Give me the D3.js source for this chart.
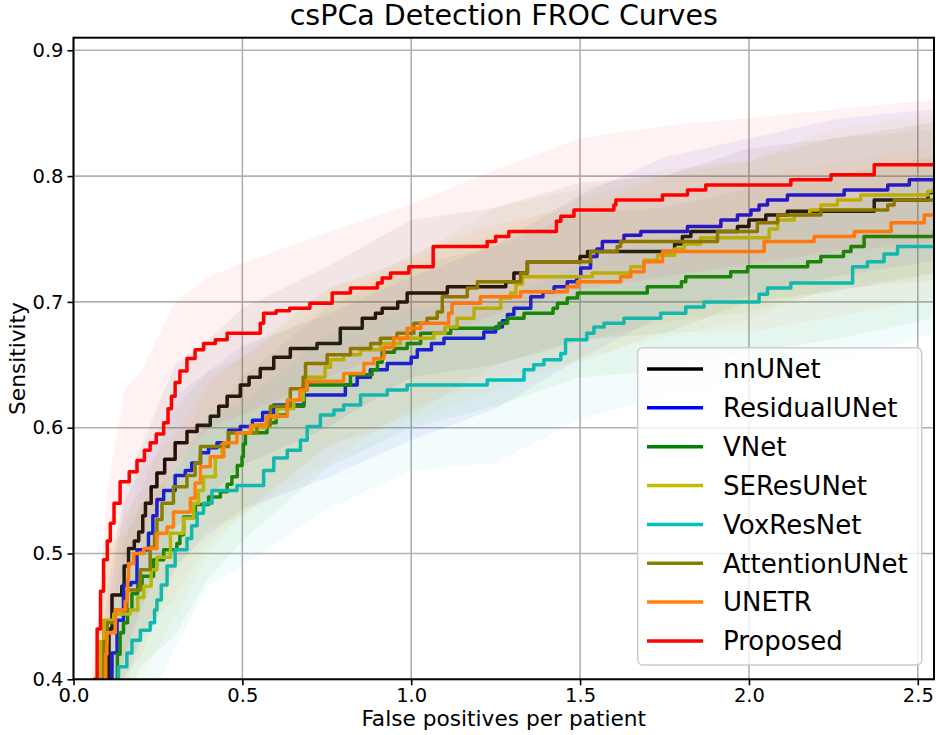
<!DOCTYPE html>
<html>
<head>
<meta charset="utf-8">
<script src="https://cdn.jsdelivr.net/npm/d3@7"></script>
<style>
  html, body { margin: 0; padding: 0; background: #fff; }
  svg { display: block; font-family: "DejaVu Sans", sans-serif; }
</style>
</head>
<body>
<svg id="chart" width="936" height="735"></svg>
<script>
// ---------------- DATA ----------------
const seriesNames = ["nnUNet", "ResidualUNet", "VNet", "SEResUNet", "VoxResNet", "AttentionUNet", "UNETR", "Proposed"];
const seriesColors = ["#000000", "#0000ff", "#008000", "#bfbf00", "#00bfbf", "#808000", "#ff7f0e", "#ff0000"];
const xTicks = [0.0, 0.5, 1.0, 1.5, 2.0, 2.5];
const yTicks = [0.4, 0.5, 0.6, 0.7, 0.8, 0.9];

// FROC curves: [false positives per patient, sensitivity]
const nnUNet = [[0.099,0.40],[0.105,0.44],[0.114,0.467],[0.143,0.474],[0.15,0.49],[0.163,0.504],[0.18,0.51],[0.193,0.517],[0.205,0.53],[0.213,0.540],[0.23,0.553],[0.247,0.564],[0.27,0.575],[0.301,0.588],[0.336,0.597],[0.366,0.602],[0.405,0.609],[0.43,0.617],[0.455,0.625],[0.494,0.634],[0.52,0.640],[0.553,0.647],[0.593,0.656],[0.642,0.663],[0.721,0.667],[0.79,0.679],[0.855,0.687],[0.894,0.691],[0.914,0.695],[0.96,0.700],[0.988,0.707],[1.107,0.712],[1.28,0.716],[1.304,0.723],[1.344,0.732],[1.50,0.736],[1.522,0.740],[1.78,0.746],[1.803,0.752],[1.828,0.756],[1.966,0.760],[2.0,0.765],[2.05,0.769],[2.114,0.772],[2.371,0.781],[2.53,0.787],[2.549,0.790],[2.6,0.790]];
const residualUNet = [[0.11,0.40],[0.114,0.421],[0.129,0.447],[0.148,0.475],[0.17,0.477],[0.188,0.503],[0.222,0.516],[0.235,0.53],[0.247,0.543],[0.267,0.550],[0.301,0.562],[0.331,0.566],[0.35,0.572],[0.376,0.580],[0.40,0.584],[0.425,0.588],[0.459,0.598],[0.494,0.601],[0.53,0.606],[0.56,0.612],[0.593,0.618],[0.682,0.626],[0.805,0.634],[0.84,0.640],[0.879,0.646],[0.929,0.651],[1.0,0.656],[1.018,0.662],[1.06,0.667],[1.097,0.671],[1.215,0.676],[1.25,0.680],[1.27,0.685],[1.285,0.690],[1.304,0.695],[1.354,0.704],[1.39,0.708],[1.423,0.712],[1.462,0.716],[1.49,0.720],[1.502,0.727],[1.531,0.736],[1.55,0.742],[1.566,0.748],[1.63,0.753],[1.68,0.756],[1.818,0.760],[1.917,0.765],[1.966,0.769],[2.006,0.773],[2.03,0.777],[2.055,0.781],[2.114,0.785],[2.282,0.789],[2.411,0.793],[2.475,0.797],[2.6,0.797]];
const vNet = [[0.125,0.40],[0.13,0.42],[0.138,0.437],[0.148,0.445],[0.16,0.455],[0.173,0.468],[0.19,0.475],[0.203,0.482],[0.237,0.495],[0.267,0.503],[0.306,0.508],[0.315,0.515],[0.326,0.529],[0.361,0.539],[0.40,0.545],[0.435,0.549],[0.455,0.555],[0.469,0.561],[0.485,0.570],[0.499,0.577],[0.503,0.587],[0.509,0.596],[0.573,0.604],[0.60,0.610],[0.633,0.617],[0.682,0.630],[0.692,0.634],[0.82,0.642],[0.884,0.646],[0.90,0.652],[0.914,0.660],[0.95,0.663],[0.988,0.667],[1.028,0.675],[1.117,0.679],[1.26,0.683],[1.285,0.687],[1.334,0.691],[1.42,0.695],[1.433,0.699],[1.462,0.703],[1.492,0.707],[1.699,0.712],[1.80,0.716],[1.813,0.720],[1.946,0.724],[1.996,0.728],[2.174,0.732],[2.213,0.736],[2.28,0.740],[2.302,0.744],[2.341,0.752],[2.549,0.756],[2.6,0.756]];
const seResUNet = [[0.065,0.40],[0.08,0.43],[0.089,0.447],[0.119,0.452],[0.168,0.455],[0.19,0.465],[0.208,0.474],[0.23,0.487],[0.247,0.497],[0.287,0.516],[0.326,0.528],[0.356,0.540],[0.37,0.550],[0.385,0.561],[0.42,0.577],[0.44,0.587],[0.459,0.596],[0.53,0.600],[0.57,0.608],[0.603,0.615],[0.652,0.622],[0.68,0.634],[0.69,0.640],[0.745,0.648],[0.761,0.654],[0.80,0.658],[0.85,0.662],[0.909,0.667],[0.968,0.671],[1.067,0.675],[1.10,0.680],[1.136,0.687],[1.186,0.695],[1.265,0.703],[1.294,0.707],[1.31,0.714],[1.329,0.720],[1.536,0.723],[1.65,0.728],[1.689,0.733],[1.729,0.737],[1.78,0.742],[1.808,0.746],[1.857,0.751],[2.06,0.758],[2.085,0.765],[2.134,0.769],[2.18,0.773],[2.213,0.777],[2.262,0.781],[2.331,0.785],[2.53,0.788],[2.549,0.790],[2.6,0.790]];
const voxResNet = [[0.128,0.40],[0.133,0.410],[0.158,0.421],[0.173,0.431],[0.198,0.439],[0.227,0.445],[0.24,0.455],[0.247,0.463],[0.26,0.475],[0.277,0.490],[0.301,0.503],[0.336,0.512],[0.35,0.522],[0.366,0.532],[0.385,0.540],[0.410,0.550],[0.484,0.554],[0.563,0.566],[0.593,0.576],[0.633,0.582],[0.672,0.590],[0.692,0.601],[0.731,0.610],[0.771,0.614],[0.800,0.618],[0.850,0.626],[0.929,0.630],[0.988,0.634],[1.225,0.638],[1.334,0.646],[1.363,0.650],[1.393,0.654],[1.443,0.659],[1.457,0.670],[1.52,0.675],[1.541,0.680],[1.571,0.683],[1.630,0.687],[1.739,0.691],[1.813,0.696],[1.867,0.700],[2.03,0.706],[2.055,0.711],[2.124,0.715],[2.307,0.728],[2.351,0.732],[2.40,0.738],[2.440,0.744],[2.6,0.744]];
const attentionUNet = [[0.08,0.40],[0.09,0.43],[0.10,0.445],[0.124,0.455],[0.158,0.471],[0.198,0.487],[0.227,0.505],[0.24,0.515],[0.247,0.527],[0.262,0.540],[0.296,0.553],[0.336,0.562],[0.36,0.572],[0.376,0.585],[0.459,0.596],[0.543,0.602],[0.583,0.617],[0.642,0.631],[0.68,0.640],[0.687,0.651],[0.751,0.658],[0.820,0.663],[0.88,0.667],[0.909,0.671],[0.958,0.675],[1.008,0.683],[1.047,0.687],[1.077,0.692],[1.092,0.704],[1.166,0.711],[1.196,0.716],[1.324,0.723],[1.344,0.732],[1.531,0.740],[1.610,0.744],[1.620,0.748],[1.907,0.756],[2.025,0.763],[2.085,0.769],[2.213,0.773],[2.411,0.777],[2.430,0.781],[2.6,0.781]];
const unetr = [[0.09,0.40],[0.095,0.42],[0.099,0.437],[0.124,0.455],[0.153,0.462],[0.16,0.48],[0.163,0.492],[0.178,0.500],[0.208,0.504],[0.247,0.516],[0.277,0.521],[0.296,0.533],[0.346,0.544],[0.36,0.556],[0.376,0.569],[0.405,0.577],[0.445,0.588],[0.484,0.596],[0.524,0.602],[0.573,0.609],[0.633,0.622],[0.67,0.630],[0.692,0.637],[0.800,0.643],[0.860,0.651],[0.889,0.655],[0.919,0.664],[0.948,0.671],[0.988,0.679],[1.028,0.683],[1.111,0.691],[1.121,0.699],[1.205,0.704],[1.324,0.708],[1.462,0.712],[1.492,0.716],[1.620,0.720],[1.650,0.724],[1.689,0.732],[1.744,0.740],[2.045,0.748],[2.193,0.752],[2.312,0.756],[2.421,0.763],[2.519,0.769],[2.6,0.769]];
const proposed = [[0.059,0.40],[0.07,0.44],[0.08,0.47],[0.089,0.495],[0.10,0.51],[0.109,0.524],[0.12,0.54],[0.138,0.557],[0.165,0.565],[0.188,0.574],[0.21,0.582],[0.227,0.588],[0.245,0.595],[0.267,0.604],[0.28,0.615],[0.29,0.625],[0.301,0.636],[0.315,0.645],[0.336,0.655],[0.36,0.662],[0.385,0.667],[0.42,0.670],[0.455,0.675],[0.553,0.683],[0.563,0.691],[0.60,0.693],[0.64,0.695],[0.70,0.699],[0.766,0.707],[0.82,0.711],[0.90,0.715],[0.914,0.719],[0.939,0.723],[0.993,0.728],[1.065,0.744],[1.225,0.748],[1.25,0.752],[1.289,0.756],[1.43,0.764],[1.443,0.768],[1.482,0.773],[1.60,0.777],[1.606,0.781],[1.744,0.785],[1.818,0.789],[1.872,0.793],[2.124,0.797],[2.243,0.801],[2.371,0.809],[2.6,0.809]];

// Confidence bands, sampled at bandX
const bandX = [0.05, 0.1, 0.15, 0.2, 0.3, 0.4, 0.5, 0.75, 1.0, 1.25, 1.5, 1.75, 2.0, 2.25, 2.6];
const nnUNetLo = [0.25, 0.33, 0.42, 0.455, 0.52, 0.545, 0.57, 0.60, 0.64, 0.65, 0.67, 0.675, 0.70, 0.708, 0.725];
const nnUNetHi = [0.34, 0.47, 0.55, 0.585, 0.65, 0.67, 0.695, 0.728, 0.765, 0.775, 0.795, 0.80, 0.822, 0.83, 0.845];
const residualUNetLo = [0.24, 0.31, 0.40, 0.43, 0.49, 0.515, 0.535, 0.56, 0.59, 0.615, 0.655, 0.69, 0.705, 0.72, 0.735];
const residualUNetHi = [0.33, 0.45, 0.54, 0.57, 0.625, 0.645, 0.665, 0.69, 0.72, 0.745, 0.785, 0.815, 0.83, 0.845, 0.855];
const vNetLo = [0.22, 0.29, 0.38, 0.41, 0.435, 0.48, 0.51, 0.568, 0.60, 0.617, 0.64, 0.645, 0.66, 0.67, 0.69];
const vNetHi = [0.30, 0.43, 0.51, 0.54, 0.565, 0.605, 0.64, 0.695, 0.728, 0.745, 0.77, 0.775, 0.79, 0.80, 0.818];
const seResUNetLo = [0.28, 0.38, 0.385, 0.40, 0.45, 0.50, 0.535, 0.585, 0.606, 0.63, 0.655, 0.672, 0.686, 0.712, 0.725];
const seResUNetHi = [0.40, 0.51, 0.515, 0.535, 0.58, 0.63, 0.66, 0.71, 0.732, 0.755, 0.782, 0.80, 0.812, 0.838, 0.85];
const voxResNetLo = [0.15, 0.20, 0.33, 0.36, 0.425, 0.475, 0.49, 0.535, 0.566, 0.572, 0.607, 0.625, 0.635, 0.65, 0.68];
const voxResNetHi = [0.25, 0.37, 0.48, 0.505, 0.57, 0.61, 0.62, 0.675, 0.695, 0.70, 0.73, 0.752, 0.76, 0.775, 0.805];
const attentionUNetLo = [0.26, 0.375, 0.40, 0.42, 0.485, 0.52, 0.53, 0.585, 0.61, 0.65, 0.668, 0.684, 0.692, 0.71, 0.718];
const attentionUNetHi = [0.38, 0.505, 0.53, 0.55, 0.615, 0.645, 0.655, 0.71, 0.735, 0.775, 0.79, 0.805, 0.812, 0.83, 0.838];
const unetrLo = [0.25, 0.37, 0.39, 0.435, 0.465, 0.51, 0.53, 0.572, 0.615, 0.64, 0.652, 0.676, 0.676, 0.688, 0.705];
const unetrHi = [0.37, 0.50, 0.52, 0.565, 0.595, 0.637, 0.656, 0.697, 0.738, 0.762, 0.775, 0.798, 0.80, 0.81, 0.826];
const proposedLo = [0.30, 0.44, 0.49, 0.51, 0.57, 0.60, 0.61, 0.64, 0.665, 0.69, 0.71, 0.72, 0.73, 0.74, 0.748];
const proposedHi = [0.38, 0.55, 0.63, 0.645, 0.70, 0.72, 0.731, 0.755, 0.778, 0.805, 0.83, 0.84, 0.846, 0.853, 0.862];

const curves = [nnUNet, residualUNet, vNet, seResUNet, voxResNet, attentionUNet, unetr, proposed];
const bandsLo = [nnUNetLo, residualUNetLo, vNetLo, seResUNetLo, voxResNetLo, attentionUNetLo, unetrLo, proposedLo];
const bandsHi = [nnUNetHi, residualUNetHi, vNetHi, seResUNetHi, voxResNetHi, attentionUNetHi, unetrHi, proposedHi];

// ---------------- CHART ----------------
const svg = d3.select("#chart");
const L = 73.5, R = 934, T = 37.7, B = 679.3;
const x = d3.scaleLinear().domain([0, 2.548]).range([L, R]);
const y = d3.scaleLinear().domain([0.4, 0.91]).range([B, T]);

svg.append("rect").attr("width", 936).attr("height", 735).attr("fill", "#fff");

svg.append("defs").append("clipPath").attr("id", "plotclip")
  .append("rect").attr("x", L).attr("y", T).attr("width", R - L).attr("height", B - T);

// grid
const grid = svg.append("g");
grid.selectAll("line.vx").data(xTicks).join("line")
  .attr("x1", d => x(d)).attr("x2", d => x(d)).attr("y1", T).attr("y2", B)
  .attr("stroke", "#b0b0b0").attr("stroke-width", 1.6);
grid.selectAll("line.hy").data(yTicks).join("line")
  .attr("x1", L).attr("x2", R).attr("y1", d => y(d)).attr("y2", d => y(d))
  .attr("stroke", "#b0b0b0").attr("stroke-width", 1.6);

const plot = svg.append("g").attr("clip-path", "url(#plotclip)");
const area = d3.area().x(d => x(d.x)).y0(d => y(d.lo)).y1(d => y(d.hi)).curve(d3.curveLinear);
const line = d3.line().x(d => x(d[0])).y(d => y(d[1])).curve(d3.curveStepAfter);

seriesNames.forEach((name, i) => {
  const bandData = bandX.map((bx, j) => ({x: bx, lo: bandsLo[i][j], hi: bandsHi[i][j]}));
  plot.append("path").datum(bandData).attr("d", area)
    .attr("fill", seriesColors[i]).attr("fill-opacity", 0.05);
  plot.append("path").datum(curves[i]).attr("d", line)
    .attr("fill", "none").attr("stroke", seriesColors[i])
    .attr("stroke-width", 3.5).attr("stroke-linejoin", "round");
});

// spines
svg.append("rect").attr("x", L).attr("y", T).attr("width", R - L).attr("height", B - T)
  .attr("fill", "none").attr("stroke", "#000").attr("stroke-width", 2);

// axes
const fmt = d3.format(".1f");
const xAxis = svg.append("g").attr("transform", `translate(0,${B})`)
  .call(d3.axisBottom(x).tickValues(xTicks).tickFormat(fmt).tickSize(6).tickPadding(3));
const yAxis = svg.append("g").attr("transform", `translate(${L},0)`)
  .call(d3.axisLeft(y).tickValues(yTicks).tickFormat(fmt).tickSize(6).tickPadding(4));
[xAxis, yAxis].forEach(g => {
  g.select(".domain").remove();
  g.selectAll(".tick line").attr("stroke", "#000").attr("stroke-width", 1.6);
  g.selectAll(".tick text").attr("fill", "#000")
    .style("font-family", "DejaVu Sans").style("font-size", "19.5px");
});

// titles
svg.append("text").attr("x", (L + R) / 2).attr("y", 25).attr("text-anchor", "middle")
  .style("font-size", "28.5px").attr("fill", "#000").text("csPCa Detection FROC Curves");
svg.append("text").attr("x", (L + R) / 2).attr("y", 725.5).attr("text-anchor", "middle")
  .style("font-size", "21.7px").attr("fill", "#000").text("False positives per patient");
svg.append("text").attr("transform", "translate(25,358.5) rotate(-90)").attr("text-anchor", "middle")
  .style("font-size", "21.7px").attr("fill", "#000").text("Sensitivity");

// legend
const lg = svg.append("g");
lg.append("rect").attr("x", 637.7).attr("y", 347.7).attr("width", 284).attr("height", 317.3)
  .attr("rx", 5).attr("fill", "#fff").attr("fill-opacity", 0.8)
  .attr("stroke", "#cccccc").attr("stroke-width", 1.5);
seriesNames.forEach((name, i) => {
  const cy = 369 + i * 38.85;
  lg.append("line").attr("x1", 647).attr("x2", 703).attr("y1", cy).attr("y2", cy)
    .attr("stroke", seriesColors[i]).attr("stroke-width", 3.5);
  lg.append("text").attr("x", 723).attr("y", cy + 9.3)
    .style("font-size", "26px").attr("fill", "#000").text(name);
});
</script>
</body>
</html>
